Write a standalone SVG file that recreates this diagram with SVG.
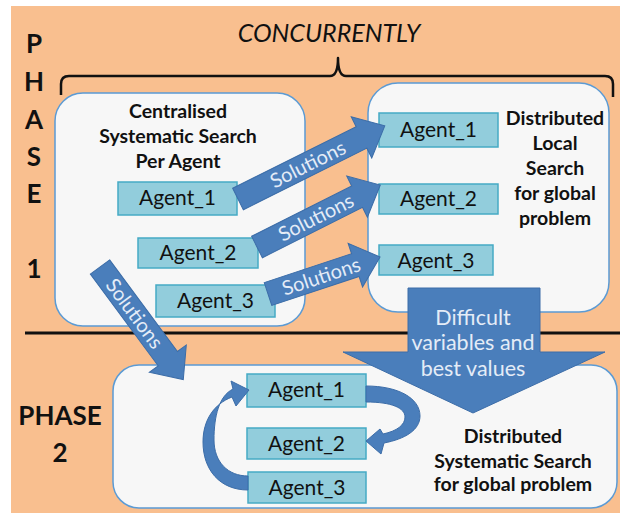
<svg xmlns="http://www.w3.org/2000/svg" width="620" height="513" viewBox="0 0 620 513">
  <style>
    text { font-family: Lato, "Liberation Sans", sans-serif; }
    .bg { fill: #F9BF8F; }
    .panel { fill: #F7F7F7; stroke: #5B9BD5; stroke-width: 1.5; }
    .agent { fill: #92CDDC; stroke: #46AAC5; stroke-width: 1.5; }
    .agent-label { font-size: 21px; fill: #111; text-anchor: middle; }
    .title { font-size: 19.5px; font-weight: bold; fill: #111; text-anchor: middle; }
    .phase { font-size: 26px; font-weight: bold; fill: #111; text-anchor: middle; }
    .flow { fill: #4A7EBB; stroke: #3C6DA8; stroke-width: 1; }
    .flow-label { font-size: 20px; fill: #E4ECF7; text-anchor: middle; }
    .big-label { font-size: 21.5px; fill: #E4ECF7; text-anchor: middle; }
    .rule { stroke: #111; stroke-width: 3; fill: none; }
    .brace { stroke: #111; stroke-width: 2.5; fill: none; stroke-linejoin: round; }
  </style>
  <defs>
    <!-- straight block arrow templates, tail at origin pointing along +x -->
    <path id="arrow164" d="M0,-12 H138 V-23 L164,0 L138,23 V12 H0 Z"/>
    <path id="arrow138" d="M0,-12 H112 V-23 L138,0 L112,23 V12 H0 Z"/>
    <path id="arrow118" d="M0,-12 H92 V-23 L118,0 L92,23 V12 H0 Z"/>
    <path id="arrow140" d="M0,-12 H114 V-23 L140,0 L114,23 V12 H0 Z"/>
  </defs>

  <rect class="bg" x="11" y="6" width="609" height="507"/>

  <!-- phase labels -->
  <g id="phase1-label">
    <text class="phase" x="34" y="53">P</text>
    <text class="phase" x="34" y="91">H</text>
    <text class="phase" x="34" y="129">A</text>
    <text class="phase" x="34" y="166">S</text>
    <text class="phase" x="34" y="203">E</text>
    <text class="phase" x="34" y="278">1</text>
  </g>
  <g id="phase2-label">
    <text class="phase" x="60" y="425">PHASE</text>
    <text class="phase" x="60" y="462">2</text>
  </g>

  <!-- concurrency brace -->
  <g id="concurrently">
    <text x="329" y="42" font-size="25" font-style="italic" text-anchor="middle" fill="#111">CONCURRENTLY</text>
    <path class="brace" d="M61,95 V84 Q61,76 69,76 H330 Q338,76 338,58 Q338,76 346,76 H605 Q613,76 613,84 V97"/>
  </g>

  <!-- phase separator -->
  <line class="rule" x1="25" y1="333" x2="620" y2="333"/>

  <!-- Phase 1: centralised systematic search -->
  <g id="centralised">
    <rect class="panel" x="55" y="93" width="250" height="233" rx="28"/>
    <text class="title" x="178" y="118">Centralised</text>
    <text class="title" x="178" y="143">Systematic Search</text>
    <text class="title" x="178" y="168">Per Agent</text>
  </g>
  <g id="c-agent1">
    <rect class="agent" x="118" y="182" width="119" height="33"/>
    <text class="agent-label" x="177.500" y="205">Agent_1</text>
  </g>
  <g id="c-agent2">
    <rect class="agent" x="138" y="238" width="120" height="30"/>
    <text class="agent-label" x="198" y="260">Agent_2</text>
  </g>
  <g id="c-agent3">
    <rect class="agent" x="156" y="285" width="119" height="32"/>
    <text class="agent-label" x="215.500" y="308">Agent_3</text>
  </g>

  <!-- Phase 1: distributed local search -->
  <g id="local">
    <rect class="panel" x="368" y="83" width="241" height="229" rx="30"/>
    <text class="title" x="555" y="125">Distributed</text>
    <text class="title" x="555" y="150">Local</text>
    <text class="title" x="555" y="175">Search</text>
    <text class="title" x="555" y="200">for global</text>
    <text class="title" x="555" y="225">problem</text>
  </g>
  <g id="l-agent1">
    <rect class="agent" x="379" y="113" width="119" height="34"/>
    <text class="agent-label" x="438.500" y="137">Agent_1</text>
  </g>
  <g id="l-agent2">
    <rect class="agent" x="379" y="184" width="119" height="30"/>
    <text class="agent-label" x="438.500" y="206">Agent_2</text>
  </g>
  <g id="l-agent3">
    <rect class="agent" x="379" y="245" width="114" height="30"/>
    <text class="agent-label" x="436" y="268">Agent_3</text>
  </g>

  <!-- Phase 2: distributed systematic search -->
  <g id="systematic">
    <rect class="panel" x="113" y="365" width="504" height="143" rx="26"/>
    <text class="title" x="513" y="443">Distributed</text>
    <text class="title" x="513" y="468">Systematic Search</text>
    <text class="title" x="513" y="491">for global problem</text>
  </g>
  <g id="s-agent1">
    <rect class="agent" x="247" y="374" width="119" height="33"/>
    <text class="agent-label" x="306.500" y="397">Agent_1</text>
  </g>
  <g id="s-agent2">
    <rect class="agent" x="247" y="428" width="119" height="31"/>
    <text class="agent-label" x="306.500" y="451">Agent_2</text>
  </g>
  <g id="s-agent3">
    <rect class="agent" x="248" y="472" width="118" height="31"/>
    <text class="agent-label" x="307" y="495">Agent_3</text>
  </g>

  <!-- connectors -->
  <g id="connectors">
    <g transform="translate(238,199) rotate(-26.5)">
      <use href="#arrow164" class="flow"/>
      <text class="flow-label" x="78" y="7">Solutions</text>
    </g>
    <g transform="translate(257,247) rotate(-26.7)">
      <use href="#arrow138" class="flow"/>
      <text class="flow-label" x="66" y="7">Solutions</text>
    </g>
    <g transform="translate(268,294) rotate(-18.3)">
      <use href="#arrow118" class="flow"/>
      <text class="flow-label" x="56" y="7">Solutions</text>
    </g>
    <g transform="translate(100,267) rotate(53.5)">
      <use href="#arrow140" class="flow"/>
      <text class="flow-label" x="58" y="7">Solutions</text>
    </g>

    <!-- hand-off from local search to the phase 2 search -->
    <g id="handoff">
      <polygon class="flow" points="408,288 540,288 540,352 605,352 473,413 343,352 408,352"/>
      <text class="big-label" x="473" y="325">Difficult</text>
      <text class="big-label" x="473" y="350">variables and</text>
      <text class="big-label" x="473" y="376">best values</text>
    </g>

    <!-- cyclic ordering among phase 2 agents -->
    <path class="flow" d="M366,386 C398,386 420,398 420,416 C420,430 405,439 384,443 L381,454 L366,441 L380,429 L383,434 C397,431 405,425 405,417 C405,408 392,402 366,402 Z"/>
    <path class="flow" d="M248,490 C220,490 203,470 203,442 C203,420 214,404 232,397 L236,406 L249,390 L231,381 L233,389 C219,396 214,416 214,440 C214,462 228,476 248,476 Z"/>
  </g>
</svg>
